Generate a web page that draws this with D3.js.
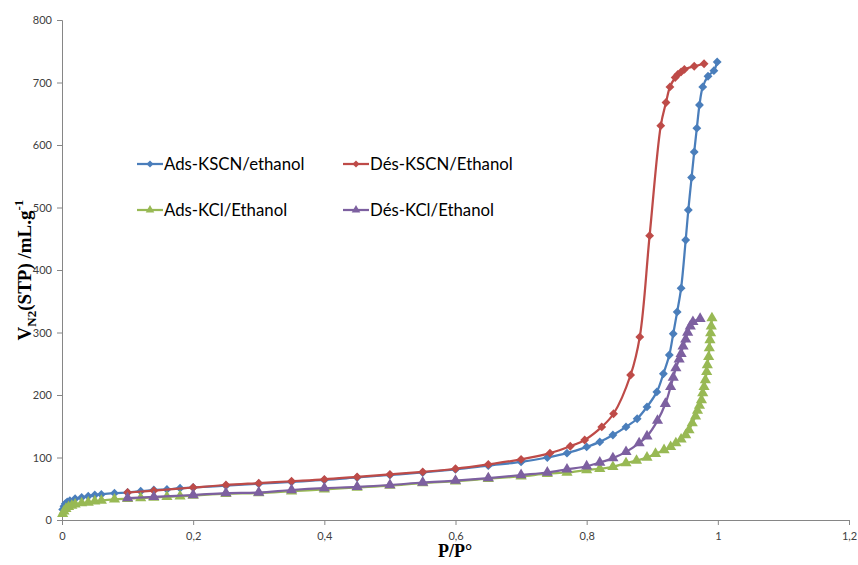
<!DOCTYPE html>
<html><head><meta charset="utf-8">
<script src="https://cdn.jsdelivr.net/npm/d3@7/dist/d3.min.js"></script>
<style>body{margin:0;background:#fff}</style>
</head><body>
<svg id="c" width="858" height="565"></svg>
<script>
const adsKSCN_x=[0.001,0.003,0.005,0.008,0.012,0.02,0.03,0.04,0.05,0.06,0.08,0.1,0.12,0.14,0.16,0.18,0.2,0.25,0.3,0.35,0.4,0.45,0.5,0.55,0.6,0.65,0.7,0.74,0.77,0.8,0.82,0.84,0.86,0.877,0.892,0.907,0.917,0.926,0.932,0.938,0.944,0.951,0.955,0.96,0.964,0.968,0.972,0.977,0.985,0.994,0.999];
const adsKSCN_y=[17,22,26,29,31,34,36,38,40,41,43,44,46,48,49,51,52,55,58,61,64,68,72,76,81,87,93,100,107,117,125,136,149,162,181,205,234,264,298,333,371,448,496,548,589,627,664,693,710,719,733];
const desKSCN_x=[0.1,0.14,0.2,0.25,0.3,0.35,0.4,0.45,0.5,0.55,0.6,0.65,0.7,0.744,0.775,0.797,0.823,0.841,0.867,0.881,0.896,0.913,0.921,0.927,0.935,0.939,0.944,0.949,0.964,0.979];
const desKSCN_y=[44,47,52,56,59,62,65,69,73,77,82,89,97,107,118,128,149,170,232,293,455,631,668,693,708,713,717,721,726,730];
const adsKCl_x=[0.001,0.003,0.006,0.01,0.015,0.02,0.03,0.04,0.05,0.06,0.08,0.1,0.12,0.14,0.16,0.18,0.2,0.25,0.3,0.35,0.4,0.45,0.5,0.55,0.6,0.65,0.7,0.74,0.77,0.8,0.82,0.84,0.86,0.876,0.892,0.905,0.918,0.928,0.936,0.944,0.951,0.956,0.961,0.966,0.969,0.972,0.975,0.977,0.979,0.981,0.983,0.984,0.986,0.987,0.988,0.989,0.99,0.991];
const adsKCl_y=[10,14,18,21,23,25,27,28,30,31,33,34,35,36,37,38,39,42,43,46,49,52,55,59,62,66,70,74,76,80,82,85,91,95,100,106,112,117,123,129,136,144,155,166,175,183,192,203,213,224,237,248,261,275,288,299,310,323];
const desKCl_x=[0.1,0.14,0.2,0.25,0.3,0.35,0.4,0.45,0.5,0.55,0.6,0.65,0.7,0.74,0.77,0.8,0.82,0.84,0.86,0.88,0.892,0.908,0.92,0.928,0.932,0.936,0.941,0.944,0.947,0.951,0.954,0.958,0.962,0.973];
const desKCl_y=[35,37,40,43,44,48,51,53,56,60,63,67,72,76,81,86,92,99,109,123,134,159,186,213,228,243,257,266,278,289,300,310,317,322];
const xTicks=[0,0.2,0.4,0.6,0.8,1,1.2];
const yTicks=[0,100,200,300,400,500,600,700,800];
const seriesNames=["Ads-KSCN/ethanol","Dés-KSCN/Ethanol","Ads-KCl/Ethanol","Dés-KCl/Ethanol"];

const series=[
 {name:seriesNames[0],xs:adsKSCN_x,ys:adsKSCN_y,color:"#4A7EBB",sym:"diamond"},
 {name:seriesNames[1],xs:desKSCN_x,ys:desKSCN_y,color:"#BE4B48",sym:"diamond"},
 {name:seriesNames[2],xs:adsKCl_x,ys:adsKCl_y,color:"#98B954",sym:"triangle"},
 {name:seriesNames[3],xs:desKCl_x,ys:desKCl_y,color:"#7D60A0",sym:"triangle"}
];
const svg=d3.select("#c");
const x=d3.scaleLinear().domain([0,1.2]).range([62,849]);
const y=d3.scaleLinear().domain([0,800]).range([520,20]);
const axisColor="#868686";
const fmt=d=>String(d).replace(".",",");
const gx=svg.append("g").attr("transform","translate(0,520)").call(d3.axisBottom(x).tickValues(xTicks).tickFormat(fmt).tickSize(5).tickPadding(7));
const gy=svg.append("g").attr("transform","translate(62,0)").call(d3.axisLeft(y).tickValues(yTicks).tickSize(5).tickPadding(5));
[gx,gy].forEach(g=>{g.selectAll("path,line").attr("stroke",axisColor);g.selectAll("text").attr("fill","#404040").style("font-family","Lato, 'Open Sans', sans-serif").style("font-size","11px");});
const sym={diamond:d3.symbol().type(d3.symbolDiamond2).size(50),triangle:d3.symbol().type(d3.symbolTriangle).size(54)};
const line=d3.line().curve(d3.curveCatmullRom.alpha(0.5));
series.forEach(s=>{
  const pts=s.xs.map((v,i)=>[x(v),y(s.ys[i])]);
  svg.append("path").attr("d",line(pts)).attr("fill","none").attr("stroke",s.color).attr("stroke-width",2.25);
  svg.append("g").selectAll("path").data(pts).join("path").attr("d",sym[s.sym]).attr("transform",d=>`translate(${d[0]},${d[1]})`).attr("fill",s.color);
});
// legend
const leg=[{s:series[0],lx:137,ly:164},{s:series[1],lx:343,ly:164},{s:series[2],lx:137,ly:210},{s:series[3],lx:343,ly:210}];
leg.forEach(l=>{
  const g=svg.append("g");
  g.append("line").attr("x1",l.lx).attr("x2",l.lx+26).attr("y1",l.ly).attr("y2",l.ly).attr("stroke",l.s.color).attr("stroke-width",2.25);
  g.append("path").attr("d",d3.symbol().type(l.s.sym==="diamond"?d3.symbolDiamond2:d3.symbolTriangle).size(32)).attr("transform",`translate(${l.lx+13},${l.ly})`).attr("fill",l.s.color);
  g.append("text").attr("x",l.lx+27).attr("y",l.ly+6).text(l.s.name).attr("fill","#000").style("font-family","Lato, 'Open Sans', sans-serif").style("font-size","16.8px");
});
// axis titles
svg.append("text").attr("x",455).attr("y",557).attr("text-anchor","middle").style("font-family","'Liberation Serif', serif").style("font-weight","bold").style("font-size","18px").text("P/P°");
const yt=svg.append("text").attr("transform","translate(31,270) rotate(-90)").attr("text-anchor","middle").style("font-family","'Liberation Serif', serif").style("font-weight","bold").style("font-size","19px");
yt.append("tspan").text("V");
yt.append("tspan").attr("dy",5).style("font-size","13px").text("N2");
yt.append("tspan").attr("dy",-5).text("(STP) /mL.g");
yt.append("tspan").attr("dy",-8).style("font-size","13px").text("-1");
</script>
</body></html>
